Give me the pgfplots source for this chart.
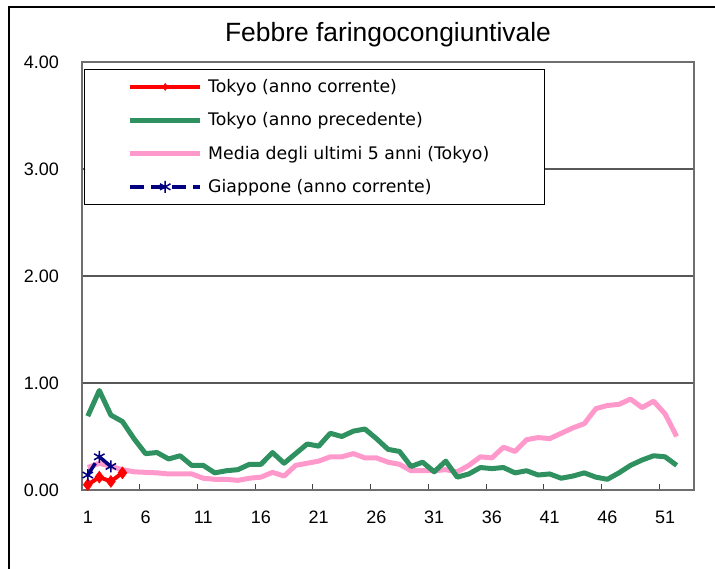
\documentclass[border=0pt]{standalone}
\usepackage{fontspec}
\setmainfont{Liberation Sans}
\newfontfamily\legfont{DejaVu Sans}
\usepackage{pgfplots}
\pgfplotsset{compat=1.18}
\definecolor{cRed}{RGB}{255,0,0}
\definecolor{cGreen}{RGB}{46,145,95}
\definecolor{cPink}{RGB}{255,153,204}
\definecolor{cNavy}{RGB}{0,0,128}
\definecolor{cFrame}{RGB}{110,110,110}
\begin{document}
\begin{tikzpicture}
\path[use as bounding box] (-82pt,-79pt) rectangle (633pt,490pt);
\draw[line width=1.5pt,black] (-73pt,-79pt) -- (-73pt,483pt) -- (633pt,483pt);
\begin{axis}[
  at={(0pt,0pt)}, anchor=south west,
  scale only axis, width=612pt, height=428pt,
  xmin=0.5, xmax=53.5, ymin=0, ymax=4,
  xtick={1,6,...,51},
  minor xtick={5.5,10.5,...,50.5},
  ytick={0,1,2,3,4},
  yticklabels={0.00,1.00,2.00,3.00,4.00},
  xticklabels={1,6,11,16,21,26,31,36,41,46,51},
  tick pos=left,
  major tick length=0pt,
  minor tick length=6pt,
  tick align=inside,
  minor tick style={draw=cFrame!60!black, line width=1pt},
  ymajorgrids,
  major grid style={draw=cFrame!80!black, line width=1.2pt},
  axis line style={draw=cFrame, line width=1.8pt},
  /pgf/number format/assume math mode=true,
  ticklabel style={font=\fontsize{18}{20}\selectfont},
  yticklabel style={inner sep=0pt, anchor=east, xshift=-23pt},
  xticklabel style={inner sep=0pt, anchor=north, yshift=-21pt},
  title={Febbre faringocongiuntivale},
  title style={font=\fontsize{26.4}{28}\selectfont, at={(0.5,1)}, anchor=base, yshift=14pt, inner sep=0pt},
  legend cell align=left,
  legend style={at={(0.003,0.9836)}, anchor=north west, draw=black, line width=0.8pt, fill=white,
    inner xsep=0pt, inner ysep=8pt, row sep=14.3pt,
    nodes={inner sep=0pt, text height=15pt, text depth=4pt, font=\legfont\fontsize{17.3}{19}\selectfont}},
  legend image code/.code={%
    \path[draw=none, fill=none] (0pt,0pt) -- (124pt,0pt);
    \draw[mark repeat=2, mark phase=2, #1] plot coordinates {(46pt,0pt) (81pt,0pt) (116pt,0pt)};
  },
]
\addlegendimage{draw=cRed, line width=4pt, mark=diamond*, mark size=3.5pt, mark options={solid, fill=cRed, draw=cRed, line width=0.5pt}}
\addlegendentry{\makebox[336pt][l]{Tokyo (anno corrente)}}
\addlegendimage{draw=cGreen, line width=5pt}
\addlegendentry{\makebox[336pt][l]{Tokyo (anno precedente)}}
\addlegendimage{draw=cPink, line width=5pt}
\addlegendentry{\makebox[336pt][l]{Media degli ultimi 5 anni (Tokyo)}}
\addlegendimage{draw=cNavy, line width=3.5pt, dash pattern=on 14pt off 7pt, mark=asterisk, mark size=6pt, mark options={solid, draw=cNavy, line width=1.5pt}}
\addlegendentry{\makebox[336pt][l]{Giappone (anno corrente)}}

\addplot[forget plot, draw=cPink, line width=5pt, line join=round] coordinates {
(1,0.21)(2,0.25)(3,0.22)(4,0.19)(5,0.17)(6,0.165)(7,0.16)(8,0.15)(9,0.15)(10,0.15)
(11,0.11)(12,0.10)(13,0.10)(14,0.09)(15,0.11)(16,0.12)(17,0.165)(18,0.13)(19,0.23)(20,0.25)
(21,0.27)(22,0.31)(23,0.31)(24,0.34)(25,0.30)(26,0.30)(27,0.26)(28,0.24)(29,0.18)(30,0.18)
(31,0.18)(32,0.19)(33,0.17)(34,0.23)(35,0.31)(36,0.30)(37,0.40)(38,0.36)(39,0.47)(40,0.49)
(41,0.48)(42,0.53)(43,0.58)(44,0.62)(45,0.76)(46,0.79)(47,0.80)(48,0.85)(49,0.77)(50,0.83)
(51,0.71)(52,0.50)};
\addplot[forget plot, draw=cGreen, line width=5pt, line join=round] coordinates {
(1,0.69)(2,0.93)(3,0.70)(4,0.64)(5,0.48)(6,0.34)(7,0.35)(8,0.29)(9,0.32)(10,0.23)
(11,0.23)(12,0.16)(13,0.18)(14,0.19)(15,0.24)(16,0.24)(17,0.35)(18,0.25)(19,0.34)(20,0.43)
(21,0.41)(22,0.53)(23,0.50)(24,0.55)(25,0.57)(26,0.48)(27,0.38)(28,0.36)(29,0.22)(30,0.26)
(31,0.17)(32,0.27)(33,0.12)(34,0.15)(35,0.21)(36,0.20)(37,0.21)(38,0.16)(39,0.18)(40,0.14)
(41,0.15)(42,0.11)(43,0.13)(44,0.16)(45,0.12)(46,0.10)(47,0.16)(48,0.23)(49,0.28)(50,0.32)
(51,0.31)(52,0.23)};
\addplot[forget plot, draw=cRed, line width=4pt, line join=round, mark=diamond*, mark size=6pt, mark options={solid, fill=cRed, draw=cRed, line width=0.5pt}] coordinates {
(1,0.05)(2,0.12)(3,0.08)(4,0.16)};
\addplot[forget plot, draw=cNavy, line width=3.5pt, dash pattern=on 14pt off 7pt, mark=asterisk, mark size=6pt, mark options={solid, draw=cNavy, line width=1.5pt}] coordinates {
(1,0.14)(2,0.31)(3,0.22)};
\end{axis}
\end{tikzpicture}
\end{document}
